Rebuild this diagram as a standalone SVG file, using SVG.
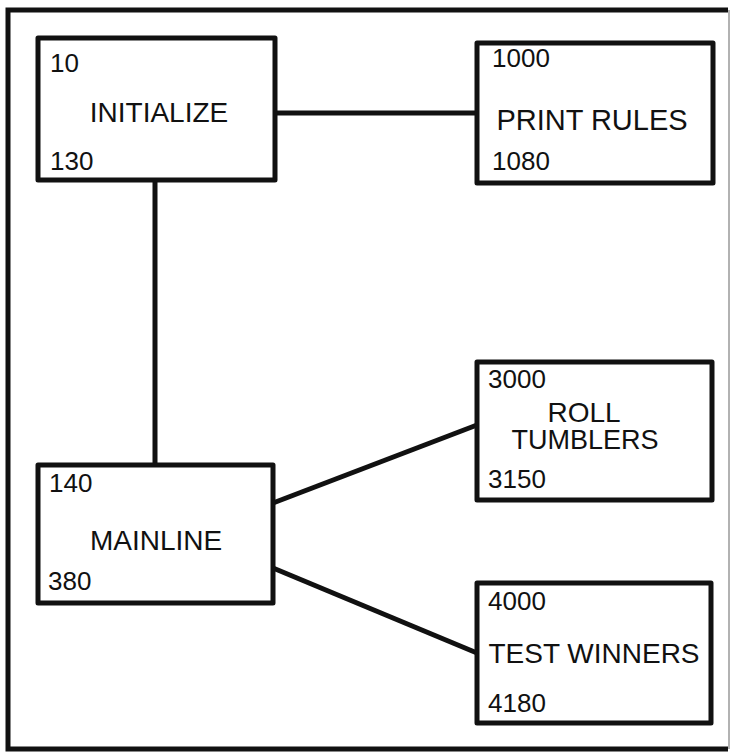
<svg xmlns="http://www.w3.org/2000/svg" width="731" height="752" viewBox="0 0 731 752">
<style>
.box{fill:#fff;stroke:#111;stroke-width:5;stroke-linejoin:round}
.conn{stroke:#111;stroke-width:5;fill:none}
.t{font-family:"Liberation Sans",Arial,sans-serif;font-size:26px;fill:#111}
.l{font-family:"Liberation Sans",Arial,sans-serif;font-size:28px;fill:#111;text-anchor:middle}
.frame{stroke:#111;stroke-width:5;fill:none}
</style>
<rect width="731" height="752" fill="#fff"/>
<g id="frame">
<path class="frame" d="M728,10 L8,10 L8,749 L728,749"/>
<line x1="729" y1="10" x2="729" y2="749" stroke="#999" stroke-width="1.5"/>
</g>
<g id="connectors">
<line class="conn" x1="275" y1="113" x2="477" y2="113"/>
<line class="conn" x1="155" y1="180" x2="155" y2="465"/>
<line class="conn" x1="273" y1="503" x2="477" y2="425"/>
<line class="conn" x1="273" y1="568" x2="477" y2="653"/>
</g>
<g id="initialize">
<rect class="box" x="38" y="38" width="237" height="142"/>
<text class="t" x="50" y="72">10</text>
<text class="l" x="159" y="122">INITIALIZE</text>
<text class="t" x="50" y="170">130</text>
</g>
<g id="print-rules">
<rect class="box" x="477" y="43" width="236" height="140"/>
<text class="t" x="492" y="67">1000</text>
<text class="l" x="592" y="130" style="font-size:29px">PRINT RULES</text>
<text class="t" x="492" y="170">1080</text>
</g>
<g id="roll-tumblers">
<rect class="box" x="477" y="362" width="235" height="138"/>
<text class="t" x="488" y="388">3000</text>
<text class="l" x="584" y="422">ROLL</text>
<text class="l" x="585" y="449" style="font-size:27px">TUMBLERS</text>
<text class="t" x="488" y="488">3150</text>
</g>
<g id="mainline">
<rect class="box" x="38" y="465" width="235" height="138"/>
<text class="t" x="49" y="492">140</text>
<text class="l" x="156" y="550">MAINLINE</text>
<text class="t" x="48" y="590">380</text>
</g>
<g id="test-winners">
<rect class="box" x="477" y="583" width="234" height="140"/>
<text class="t" x="488" y="610">4000</text>
<text class="l" x="594" y="663">TEST WINNERS</text>
<text class="t" x="488" y="712">4180</text>
</g>
</svg>
